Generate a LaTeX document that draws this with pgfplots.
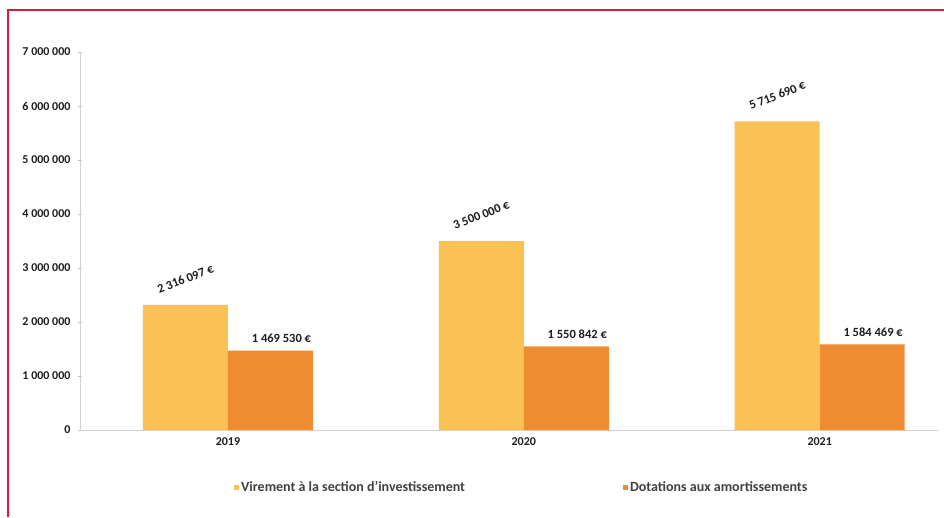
\documentclass[border=0pt]{standalone}
\usepackage{fontspec}
\setmainfont{Carlito}
\usepackage{pgfplots}
\pgfplotsset{compat=1.18}
\definecolor{vir}{RGB}{250,193,85}
\definecolor{dot}{RGB}{239,139,48}
\definecolor{frame}{RGB}{218,28,52}
\definecolor{txt}{RGB}{30,30,30}
\begin{document}
\begin{tikzpicture}[x=1pt,y=1pt]
\useasboundingbox (0,0) rectangle (944,517);
\fill[white] (0,0) rectangle (944,517);
\draw[frame, line width=1.8pt] (8,0) -- (8,507) -- (944,507);
\begin{axis}[
  at={(80pt,87pt)}, anchor=south west,
  scale only axis, width=858pt, height=378pt,
  xmin=-0.5, xmax=2.4, ymin=0, ymax=7000000,
  ybar=0pt, bar width=85pt,
  xtick={0,1,2}, xticklabels={2019,2020,2021},
  ytick={0,1000000,2000000,3000000,4000000,5000000,6000000,7000000},
  yticklabels={0,1 000 000,2 000 000,3 000 000,4 000 000,5 000 000,6 000 000,7 000 000},
  scaled y ticks=false,
  axis x line*=bottom, axis y line*=left,
  axis line style={gray!35, line width=0.8pt},
  x tick style={draw=none},
  y tick style={gray!50, line width=0.8pt},
  major tick length=4pt, tick align=center,
  tick label style={font=\bfseries\fontsize{12}{12}\selectfont, text=txt},
  yticklabel style={xshift=-4pt},
  xticklabel style={yshift=-2pt},
  legend style={at={(0.176,-0.151)}, anchor=west, draw=none, fill=none,
    legend columns=2, font=\bfseries\fontsize{14}{14}\selectfont, text=txt!85,
    /tikz/every even column/.append style={column sep=156pt}},
]
\addplot[fill=vir, draw=none, nodes near coords, point meta=explicit symbolic,
  every node near coord/.append style={anchor=center, yshift=26pt, rotate=21,
    font=\bfseries\fontsize{12.5}{12}\selectfont, text=txt},
  legend image code/.code={\fill[vir] (0pt,-2.5pt) rectangle (5pt,2.5pt);}]
  coordinates {(0,2316097)[2 316 097 €] (1,3500000)[3 500 000 €] (2,5715690)[5 715 690 €]};
\addplot[fill=dot, draw=none, nodes near coords, point meta=explicit symbolic,
  every node near coord/.append style={anchor=center, xshift=11pt, yshift=12pt,
    font=\bfseries\fontsize{12.5}{12}\selectfont, text=txt},
  legend image code/.code={\fill[dot] (0pt,-2.5pt) rectangle (5pt,2.5pt);}]
  coordinates {(0,1469530)[1 469 530 €] (1,1550842)[1 550 842 €] (2,1584469)[1 584 469 €]};
\legend{Virement à la section d'investissement, Dotations aux amortissements}
\end{axis}
\end{tikzpicture}
\end{document}
